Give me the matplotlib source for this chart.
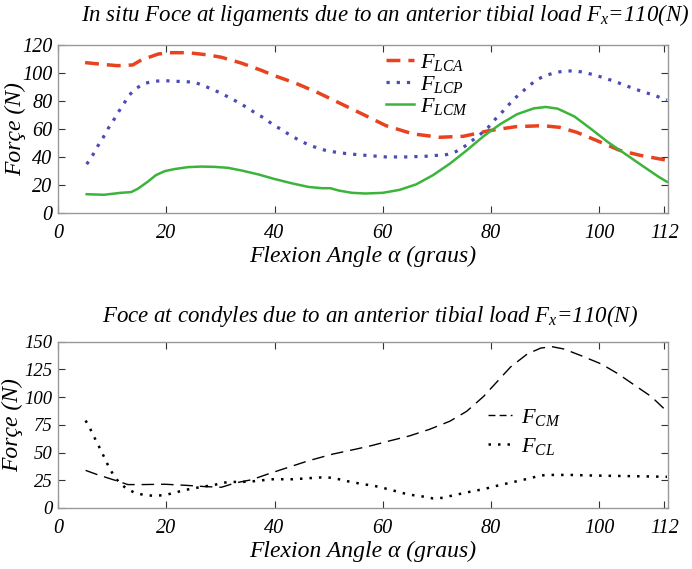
import matplotlib
matplotlib.use("Agg")
import matplotlib.pyplot as plt
from matplotlib.lines import Line2D

plt.rcParams["font.family"] = "Liberation Serif"
plt.rcParams["font.style"] = "italic"
plt.rcParams["mathtext.fontset"] = "custom"
plt.rcParams["mathtext.rm"] = "Liberation Serif:italic"
plt.rcParams["mathtext.it"] = "Liberation Serif:italic"

# ---- top panel: ligament forces ----
x_lca = [5, 8, 11, 13.8, 15.4, 18.5, 20.3, 24, 27.7, 30.2, 33.9, 37.6, 40, 43.8, 48.1, 52.5, 56.3,
         60.6, 65.6, 70.5, 74.9, 79.6, 84.6, 89.6, 92.7, 95.8, 99.5, 103.8, 107.5, 112.5]
f_lca = [107.4, 106.2, 105.2, 105.7, 109.3, 113.5, 114.5, 114.5, 112.9, 111.2, 107, 101.8, 98, 92.8,
         85.7, 77.5, 70.4, 62.2, 56.3, 53.9, 54.6, 58.6, 61.5, 62.2, 61, 57.5, 51.6, 44.5, 41, 37.4]

x_lcp = [5.3, 6.4, 7.3, 8.3, 9.2, 10.2, 11.1, 12.1, 13.1, 14.4, 15.9, 17.7, 19.6, 21.5, 23.3, 25.2,
         26.9, 28.6, 30.3, 31.9, 33.5, 35.1, 36.6, 38.2, 39.7, 41.3, 42.8, 44.4, 46.1, 47.8, 49.6,
         51.5, 53.3, 55.2, 57, 60.6, 64.3, 68, 71.8, 73.6, 75.2, 76.7, 78.1, 79.5, 80.7, 82, 83.2,
         84.4, 85.7, 87.1, 88.5, 90.2, 92.1, 93.9, 95.8, 97.6, 99.5, 101.4, 103.2, 105.1, 106.3,
         108.2, 110, 112.5]
f_lcp = [34.6, 41, 47.3, 53.4, 59.8, 65.7, 71.6, 77.5, 83.9, 88.8, 92.4, 94, 94.5, 94, 93.8, 93.3,
         90.9, 88.1, 85.1, 81.8, 78.5, 74.7, 70.9, 67.4, 62.9, 59.4, 55.6, 52.1, 48.8, 46.4, 44.3,
         43.1, 42.2, 41.5, 40.9, 39.8, 39.8, 40.3, 41.5, 43.8, 47.6, 52.1, 56.3, 61.1, 66.5, 71.7,
         76.9, 81.8, 86.3, 91, 95.3, 98.3, 100.5, 101.4, 101.4, 100, 98.1, 95.8, 93.4, 90.6, 88.9,
         86.3, 84.2, 80.5]

x_lcm = [5.3, 8.5, 11.6, 13.5, 14.7, 16.6, 18.1, 19.7, 21.5, 24, 26.4, 28.9, 31.4, 33.9, 37, 40,
         43.2, 46.3, 48.8, 50.3, 51.9, 54.3, 56.8, 60, 63.1, 66.2, 69.3, 72.4, 75.5, 78.6, 81.7,
         84.8, 87.9, 90.1, 92.3, 95.4, 98.5, 101.6, 104.7, 107.8, 110.9, 112.5]
f_lcm = [13.1, 12.7, 14.1, 14.6, 16.9, 22.1, 26.8, 29.6, 31.1, 32.5, 32.9, 32.7, 32, 30.1, 27.3, 24,
         20.9, 18.3, 17.4, 17.4, 15.7, 14.1, 13.6, 14.1, 16.2, 20.2, 26.8, 35, 44.5, 54.6, 63.3,
         70.4, 74.6, 75.6, 74.4, 68.8, 59.8, 50.4, 42.2, 33.9, 25.7, 22]

# ---- bottom panel: condyle forces ----
x_cm = [5.1, 7.3, 11.1, 12.9, 15.4, 19.7, 23.4, 27.1, 30.2, 32.7, 35.8, 38.9, 42.6, 46.3, 50.7, 55,
        58, 61.2, 64.9, 68.6, 72.4, 75.5, 78.6, 81.1, 83.6, 86.7, 89.2, 91.3, 93.5, 96.6, 100.3,
        103.4, 106.5, 109.6, 112.5]
f_cm = [33.9, 30, 24.1, 21.1, 21.1, 21.4, 20.5, 19.3, 18.7, 22.5, 25.5, 30.8, 36.7, 42.6, 48.5, 53,
        56.3, 60.4, 64.9, 70.8, 78.2, 87.1, 100.4, 113.7, 127, 138.8, 144.1, 145.3, 143.2, 137.3,
        129.9, 121.1, 110.7, 100.4, 87]

x_cl = [5.1, 6, 6.8, 7.6, 8.4, 9.2, 10.1, 11.2, 12.6, 14.2, 16, 17.8, 19.7, 21.5, 23.3, 25, 26.8,
        28.7, 30.4, 32.3, 34.1, 36.1, 37.8, 39.7, 41.5, 43.4, 45.3, 47.1, 49.1, 51, 52.8, 54.7,
        56.4, 58.2, 60.3, 62.2, 64.1, 65.9, 67.8, 69.3, 71.2, 73.1, 74.9, 76.8, 78.5, 80.2, 81.9,
        83.6, 85.4, 87.3, 89.1, 91, 92.8, 94.7, 98.4, 102.1, 105.8, 109.5, 112.5]
f_cl = [78.8, 70.8, 62.8, 55.1, 47.1, 38.9, 30.9, 23.5, 17.6, 13.7, 11.6, 11, 11.6, 13.7, 16.1, 17.6,
        19.3, 20.5, 22.8, 23.5, 23.5, 24.1, 25, 25.9, 25.9, 25.9, 26.5, 27.1, 27.7, 27.1, 24.7, 23,
        21.4, 20.2, 17.8, 15.4, 13, 11.3, 10.1, 8.6, 9.2, 11.6, 13.3, 15.4, 16.8, 18.9, 21, 22.8,
        24.8, 26.9, 29.3, 29.8, 29.8, 29.8, 29.3, 29, 28.7, 28.4, 28.1]

xticks = [0, 20, 40, 60, 80, 100, 112]

fig = plt.figure(figsize=(6.92, 5.69), dpi=100)
ax1 = fig.add_axes([58/692, 1-212.5/569, 609.5/692, 167.5/569])
ax2 = fig.add_axes([58/692, 1-508/569, 609.5/692, 166.5/569])

red = "#e8421e"
blue = "#4a4ab8"
green = "#3cb43c"

ax1.plot(x_lca, f_lca, color=red, lw=2.5, dashes=(4, 2.3), label="$F_{LCA}$")
ax1.plot(x_lcp, f_lcp, color=blue, lw=2.3, dashes=(1, 2.2), dash_capstyle="butt", label="$F_{LCP}$")
ax1.plot(x_lcm, f_lcm, color=green, lw=1.8, label="$F_{LCM}$")

ax2.plot(x_cm, f_cm, color="black", lw=1.0, dashes=(9, 5))
ax2.plot(x_cl, f_cl, color="black", lw=1.8, dashes=(1, 2.8), dash_capstyle="butt")

for ax, ymax, step, ysize, ylx in [(ax1, 120, 20, 14.5, -0.052), (ax2, 150, 25, 13.5, -0.058)]:
    ax.set_xlim(0, 112.6)
    ax.set_ylim(0, ymax)
    ax.set_xticks(xticks)
    ax.set_yticks(range(0, ymax + 1, step))
    ax.tick_params(direction="in", top=True, right=True, length=5, width=0.8,
                   color="#333333", labelsize=14.5, pad=5)
    ax.tick_params(axis="x", pad=8)
    ax.tick_params(axis="y", labelsize=ysize, pad=4)
    for s in ax.spines.values():
        s.set_color("#999999")
        s.set_linewidth(1.0)
    ax.set_xlabel("Flexion Angle α (graus)", fontsize=17, labelpad=2)
    ax.set_ylabel("Forçe (N)", fontsize=17)
    ax.yaxis.set_label_coords(ylx, 0.5)

ax1.legend(loc="upper left", bbox_to_anchor=(0.538, 0.96), frameon=False, fontsize=16,
           handlelength=1.25, handletextpad=0.3, labelspacing=0.05, borderpad=0, borderaxespad=0)

cm_handle = Line2D([], [], color="black", lw=1.0, dashes=(5, 3))
cl_handle = Line2D([], [], color="black", lw=1.8, dashes=(1, 2.8), dash_capstyle="butt")
ax2.legend([cm_handle, cl_handle], ["$F_{CM}$", "$F_{CL}$"], loc="upper left",
           bbox_to_anchor=(0.705, 0.605), frameon=False, fontsize=16, handlelength=1.1,
           handletextpad=0.4, labelspacing=0.35, borderpad=0, borderaxespad=0)

fig.text(0.556, 1-15/569, "In situ Foce at ligaments due to an anterior tibial load $F_x$=110(N)",
         ha="center", va="center", fontsize=16.5)
fig.text(0.535, 1-316/569, "Foce at condyles due to an anterior tibial load $F_x$=110(N)",
         ha="center", va="center", fontsize=16.5)

fig.savefig("out.png", dpi=100)
